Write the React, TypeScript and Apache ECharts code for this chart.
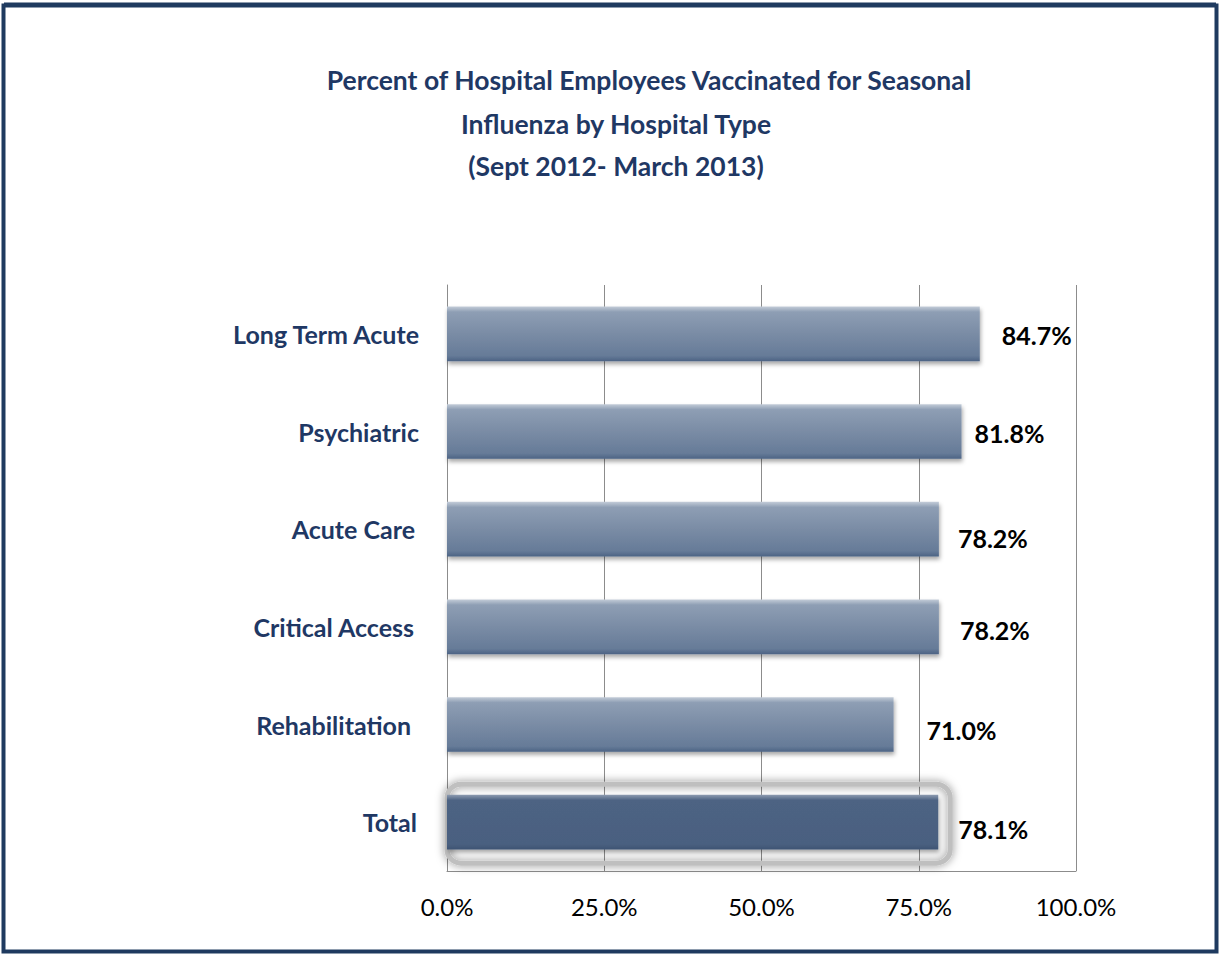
import React, { useEffect, useRef } from "react";
import * as echarts from "echarts";

const titleLines = [
  "Percent of Hospital Employees Vaccinated for Seasonal",
  "Influenza by Hospital Type",
  "(Sept 2012- March 2013)",
];
const categories = [
  "Long Term Acute",
  "Psychiatric",
  "Acute Care",
  "Critical Access",
  "Rehabilitation",
  "Total",
];
const values = [84.7, 81.8, 78.2, 78.2, 71.0, 78.1];
const axisMin = 0;
const axisMax = 100;
const axisStep = 25;

// layout-only: label nudges [distance from bar end, vertical offset]
const labelNudges: [number, number][] = [
  [22, 1],
  [13, 1],
  [19, 9],
  [21, 3],
  [33, 5],
  [20, 7],
];
// layout-only: category label right padding
const catPad = [0, 0, 4, 5, 8, 2];

const NAVY = "#1f3864";
const GRID = "#8c8c8c";

export default function App() {
  const ref = useRef<HTMLDivElement>(null);
  useEffect(() => {
    if (!ref.current) return;
    const chart = echarts.init(ref.current, undefined, { renderer: "svg" });
    const normalColor = new echarts.graphic.LinearGradient(0, 0, 0, 1, [
      { offset: 0, color: "#c3ccd8" },
      { offset: 0.1, color: "#8e9eb4" },
      { offset: 0.5, color: "#7a8ca5" },
      { offset: 0.9, color: "#667b98" },
      { offset: 1, color: "#4c6384" },
    ]);
    const totalColor = new echarts.graphic.LinearGradient(0, 0, 0, 1, [
      { offset: 0, color: "#8d9bb0" },
      { offset: 0.1, color: "#4d6383" },
      { offset: 0.9, color: "#4a6080" },
      { offset: 1, color: "#3e5473" },
    ]);
    const totalIdx = categories.indexOf("Total");
    const data = values.map((v, i) => ({
      value: v,
      itemStyle: { color: i === totalIdx ? totalColor : normalColor },
      label: { distance: labelNudges[i][0], offset: [0, labelNudges[i][1]] },
    }));

    const titleGraphics = [
      { x: 649, y: 80 },
      { x: 616, y: 124 },
      { x: 616, y: 166 },
    ].map((p, i) => ({
      type: "text",
      x: p.x,
      y: p.y,
      style: {
        text: titleLines[i],
        fill: NAVY,
        font: "bold 26.5px Lato",
        textAlign: "center",
        textVerticalAlign: "middle",
      },
    }));

    chart.setOption({
      animation: false,
      textStyle: { fontFamily: "Lato" },
      grid: { left: 447, right: 144, top: 285, bottom: 84, containLabel: false },
      xAxis: {
        type: "value",
        min: axisMin,
        max: axisMax,
        interval: axisStep,
        axisLine: { show: true, lineStyle: { color: GRID, width: 1 } },
        axisTick: { show: false },
        splitLine: { show: true, lineStyle: { color: GRID, width: 1 } },
        axisLabel: {
          formatter: (v: number) => v.toFixed(1) + "%",
          color: "#000",
          fontSize: 24,
          margin: 23,
          fontFamily: "Lato",
        },
      },
      yAxis: {
        type: "category",
        data: categories,
        inverse: true,
        axisLine: { show: true, lineStyle: { color: GRID, width: 1 } },
        axisTick: { show: false },
        axisLabel: {
          color: NAVY,
          fontWeight: "bold",
          fontSize: 25,
          margin: 28,
          fontFamily: "Lato",
          formatter: (v: string) => {
            const i = categories.indexOf(v);
            return "{p" + catPad[i] + "|" + v + "}";
          },
          rich: Object.fromEntries(
            catPad.map((p) => [
              "p" + p,
              {
                color: NAVY,
                fontWeight: "bold",
                fontSize: 25,
                fontFamily: "Lato",
                padding: [0, p, 0, 0],
              },
            ])
          ),
        },
      },
      series: [
        {
          type: "bar",
          data,
          barWidth: "56%",
          z: 3,
          itemStyle: {
            shadowColor: "rgba(0,0,0,0.35)",
            shadowBlur: 4,
            shadowOffsetX: 1,
            shadowOffsetY: 3,
          },
          label: {
            show: true,
            position: "right",
            formatter: (p: any) => p.value.toFixed(1) + "%",
            color: "#000",
            fontWeight: "bold",
            fontSize: 25,
            fontFamily: "Lato",
          },
        },
      ],
    });

    const start = chart.convertToPixel({ seriesIndex: 0 }, [axisMin, totalIdx]) as number[];
    const end = chart.convertToPixel({ seriesIndex: 0 }, [values[totalIdx], totalIdx]) as number[];

    chart.setOption({
      graphic: [
        {
          type: "rect",
          z: 100,
          silent: true,
          shape: { x: 3.5, y: 5.5, width: 1213, height: 946 },
          style: { fill: "none", stroke: "#1f3a5f", lineWidth: 4 },
        },
        {
          type: "line",
          z: 100,
          silent: true,
          shape: { x1: 4, y1: 4, x2: 1216, y2: 4 },
          style: { stroke: "#1f3a5f", lineWidth: 3 },
        },
        ...titleGraphics,
        {
          type: "rect",
          z: 1,
          silent: true,
          shape: {
            x: start[0],
            y: end[1] - 38,
            width: end[0] - start[0] + 12,
            height: 79,
            r: 14,
          },
          style: {
            fill: "none",
            stroke: "#bfbfbf",
            lineWidth: 5,
            shadowBlur: 9,
            shadowColor: "rgba(0,0,0,0.5)",
          },
        },
      ],
    });

    return () => chart.dispose();
  }, []);
  return (
    <div
      ref={ref}
      style={{ position: "fixed", left: 0, top: 0, width: 1220, height: 955, background: "#fff" }}
    />
  );
}
